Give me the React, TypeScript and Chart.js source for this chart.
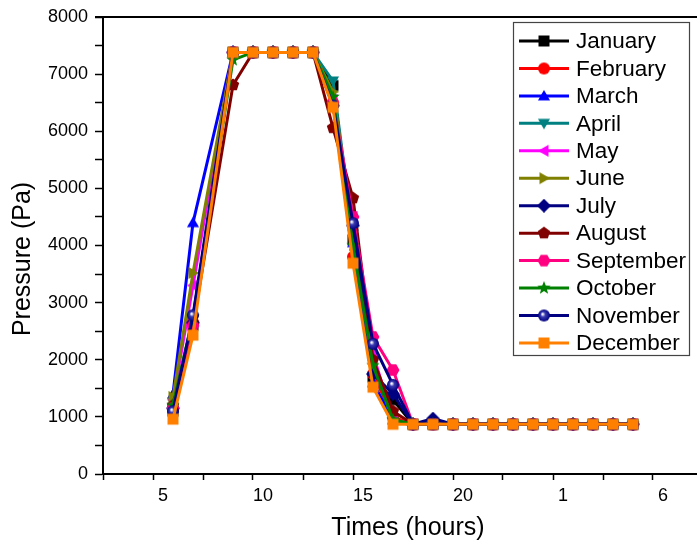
import React, { useEffect, useRef } from "react";
import { Chart, registerables } from "chart.js";

Chart.register(...registerables);

// ---- data ----
const times = [6, 7, 9, 10, 11, 12, 13, 14, 15, 16, 17, 18, 19, 20, 21, 22, 23, 24, 25, 26, 27, 28, 29];
const months = ["January", "February", "March", "April", "May", "June", "July", "August", "September", "October", "November", "December"];

const january = [1100, 2600, 7380, 7380, 7380, 7380, 7380, 6800, 4100, 1700, 1300, 870, 870, 870, 870, 870, 870, 870, 870, 870, 870, 870, 870];
const february = [1150, 2650, 7380, 7380, 7380, 7380, 7380, 6500, 3800, 1750, 1000, 870, 870, 870, 870, 870, 870, 870, 870, 870, 870, 870, 870];
const march = [1400, 4400, 7380, 7380, 7380, 7380, 7380, 6500, 4050, 1600, 950, 870, 870, 870, 870, 870, 870, 870, 870, 870, 870, 870, 870];
const april = [1250, 2700, 7380, 7380, 7380, 7380, 7380, 6880, 4200, 2000, 900, 870, 870, 870, 870, 870, 870, 870, 870, 870, 870, 870, 870];
const may = [1300, 3300, 7380, 7380, 7380, 7380, 7380, 6550, 4500, 2100, 950, 870, 870, 870, 870, 870, 870, 870, 870, 870, 870, 870, 870];
const june = [1350, 3520, 7380, 7380, 7380, 7380, 7380, 6690, 4300, 2000, 950, 870, 870, 870, 870, 870, 870, 870, 870, 870, 870, 870, 870];
const july = [1150, 2650, 7380, 7380, 7380, 7380, 7380, 6450, 4350, 1750, 1400, 870, 970, 870, 870, 870, 870, 870, 870, 870, 870, 870, 870];
const august = [1200, 2600, 6810, 7380, 7380, 7380, 7380, 6060, 4830, 2000, 1100, 870, 870, 870, 870, 870, 870, 870, 870, 870, 870, 870, 870];
const september = [1150, 2600, 7380, 7380, 7380, 7380, 7380, 6500, 4500, 2400, 1820, 870, 870, 870, 870, 870, 870, 870, 870, 870, 870, 870, 870];
const october = [1200, 2750, 7250, 7380, 7380, 7380, 7380, 6600, 4000, 1900, 950, 870, 870, 870, 870, 870, 870, 870, 870, 870, 870, 870, 870];
const november = [1100, 2780, 7380, 7380, 7380, 7380, 7380, 6450, 4390, 2280, 1560, 870, 870, 870, 870, 870, 870, 870, 870, 870, 870, 870, 870];
const december = [960, 2430, 7380, 7380, 7380, 7380, 7380, 6420, 3690, 1520, 870, 870, 870, 870, 870, 870, 870, 870, 870, 870, 870, 870, 870];

const seriesValues = [january, february, march, april, may, june, july, august, september, october, november, december];
const colors = ["#000000", "#FF0000", "#0000FF", "#008080", "#FF00FF", "#808000", "#000080", "#800000", "#FF0080", "#008000", "#000080", "#FF8000"];
const shapes = ["square", "circle", "triUp", "triDown", "triLeft", "triRight", "diamond", "pentagon", "hexagon", "star", "sphere", "square"];

const xTickValues = [5, 10, 15, 20, 25, 30];
const xTickLabels = ["5", "10", "15", "20", "1", "6"];
const yTickValues = [0, 1000, 2000, 3000, 4000, 5000, 6000, 7000, 8000];

const FONT = "'Liberation Sans', Arial, sans-serif";

function polygon(g: CanvasRenderingContext2D, cx: number, cy: number, r: number, n: number, rot: number) {
  for (let i = 0; i < n; i++) {
    const a = rot + (i * 2 * Math.PI) / n;
    const px = cx + r * Math.cos(a);
    const py = cy + r * Math.sin(a);
    if (i === 0) g.moveTo(px, py);
    else g.lineTo(px, py);
  }
  g.closePath();
}

function makeMarker(shape: string, color: string): HTMLCanvasElement {
  const size = 14;
  const c = document.createElement("canvas");
  c.width = size;
  c.height = size;
  const g = c.getContext("2d") as CanvasRenderingContext2D;
  const cx = size / 2, cy = size / 2;
  g.fillStyle = color;
  g.beginPath();
  switch (shape) {
    case "square":
      g.rect(cx - 5.5, cy - 5.5, 11, 11);
      break;
    case "circle":
      g.arc(cx, cy, 6, 0, Math.PI * 2);
      break;
    case "triUp":
      polygon(g, cx, cy + 1, 7, 3, -Math.PI / 2);
      break;
    case "triDown":
      polygon(g, cx, cy - 1, 7, 3, Math.PI / 2);
      break;
    case "triLeft":
      polygon(g, cx + 1, cy, 7, 3, Math.PI);
      break;
    case "triRight":
      polygon(g, cx - 1, cy, 7, 3, 0);
      break;
    case "diamond":
      polygon(g, cx, cy, 7, 4, -Math.PI / 2);
      break;
    case "pentagon":
      polygon(g, cx, cy, 6.5, 5, -Math.PI / 2);
      break;
    case "hexagon":
      polygon(g, cx, cy, 6.5, 6, 0);
      break;
    case "star": {
      for (let i = 0; i < 10; i++) {
        const a = -Math.PI / 2 + (i * Math.PI) / 5;
        const r = i % 2 === 0 ? 7 : 3;
        const px = cx + r * Math.cos(a), py = cy + r * Math.sin(a);
        if (i === 0) g.moveTo(px, py);
        else g.lineTo(px, py);
      }
      g.closePath();
      break;
    }
    case "sphere": {
      const grad = g.createRadialGradient(cx - 1.5, cy - 1.5, 0.5, cx, cy, 6);
      grad.addColorStop(0, "#ffffff");
      grad.addColorStop(0.35, "#3a3ab0");
      grad.addColorStop(1, color);
      g.fillStyle = grad;
      g.arc(cx, cy, 6, 0, Math.PI * 2);
      break;
    }
  }
  g.fill();
  return c;
}

export default function App() {
  const ref = useRef<HTMLCanvasElement | null>(null);

  useEffect(() => {
    if (!ref.current) return;
    const markers = shapes.map((s, i) => makeMarker(s, colors[i]));

    const datasets = months.map((m, i) => ({
      label: m,
      data: times.map((t, j) => ({ x: t, y: seriesValues[i][j] })),
      borderColor: colors[i],
      backgroundColor: colors[i],
      borderWidth: 3,
      pointStyle: markers[i],
      pointRadius: 7,
      tension: 0,
      order: months.length - 1 - i,
    }));

    const framePlugin = {
      id: "frame",
      afterDraw(chart: any) {
        const { ctx, chartArea } = chart;
        ctx.save();
        // top border
        ctx.strokeStyle = "#000";
        ctx.lineWidth = 2;
        ctx.beginPath();
        ctx.moveTo(chartArea.left - 8, chartArea.top);
        ctx.lineTo(chartArea.right, chartArea.top);
        ctx.stroke();

        // axis titles
        ctx.fillStyle = "#000";
        ctx.font = `25px ${FONT}`;
        ctx.textAlign = "center";
        ctx.textBaseline = "middle";
        ctx.fillText("Times (hours)", 408, 528);
        ctx.save();
        ctx.translate(23, 259);
        ctx.rotate(-Math.PI / 2);
        ctx.fillText("Pressure (Pa)", 0, 0);
        ctx.restore();

        // legend
        const x0 = 513, y0 = 22, x1 = 690, y1 = 356;
        ctx.fillStyle = "#fff";
        ctx.fillRect(x0, y0, x1 - x0, y1 - y0);
        ctx.strokeStyle = "#444";
        ctx.lineWidth = 1.2;
        ctx.strokeRect(x0 + 0.5, y0 + 0.5, x1 - x0 - 1, y1 - y0 - 1);
        ctx.font = `22.5px ${FONT}`;
        ctx.textAlign = "left";
        ctx.textBaseline = "middle";
        months.forEach((m, i) => {
          const y = 41 + i * 27.45;
          ctx.strokeStyle = colors[i];
          ctx.lineWidth = 3;
          ctx.beginPath();
          ctx.moveTo(519, y);
          ctx.lineTo(569, y);
          ctx.stroke();
          const mk = markers[i];
          ctx.drawImage(mk, 544 - mk.width / 2, y - mk.height / 2);
          ctx.fillStyle = "#000";
          ctx.fillText(m, 576, y + 1);
        });
        ctx.restore();
      },
    };

    const chart = new Chart(ref.current, {
      type: "line",
      data: { datasets: datasets as any },
      options: {
        responsive: false,
        animation: false,
        events: [],
        layout: { autoPadding: false, padding: { top: 17, left: 0, right: 0, bottom: 0 } },
        plugins: { legend: { display: false }, tooltip: { enabled: false }, title: { display: false } },
        scales: {
          x: {
            type: "linear",
            min: 2.5,
            max: 32.2,
            afterFit(scale: any) {
              scale.height = 67;
              scale.paddingLeft = 0;
              scale.paddingRight = 0;
            },
            afterBuildTicks(scale: any) {
              const t = [];
              for (let v = 2.5; v <= 30; v += 2.5) t.push({ value: v });
              scale.ticks = t;
            },
            grid: { drawOnChartArea: false, drawTicks: true, tickLength: 6, tickColor: "#000", tickWidth: 1.5 },
            border: { display: true, color: "#000", width: 2 },
            ticks: {
              color: "#000",
              font: { family: FONT, size: 18 },
              padding: 5,
              labelOffset: 10,
              maxRotation: 0,
              autoSkip: false,
              callback(v: any) {
                const k = xTickValues.indexOf(Number(v));
                return k >= 0 ? xTickLabels[k] : "";
              },
            },
          },
          y: {
            type: "linear",
            min: 0,
            max: 8000,
            afterFit(scale: any) {
              scale.width = 103;
              scale.paddingTop = 0;
              scale.paddingBottom = 0;
            },
            afterBuildTicks(scale: any) {
              const t = [];
              for (let v = 0; v <= 8000; v += 500) t.push({ value: v });
              scale.ticks = t;
            },
            grid: { drawOnChartArea: false, drawTicks: true, tickLength: 8, tickColor: "#000", tickWidth: 1.5 },
            border: { display: true, color: "#000", width: 2 },
            ticks: {
              color: "#000",
              font: { family: FONT, size: 18 },
              padding: 7,
              autoSkip: false,
              callback(v: any) {
                return yTickValues.indexOf(Number(v)) >= 0 ? String(v) : "";
              },
            },
          },
        },
      },
      plugins: [framePlugin],
    });
    return () => chart.destroy();
  }, []);

  return (
    <div style={{ position: "fixed", left: 0, top: 0, width: 697, height: 541, background: "#fff" }}>
      <canvas ref={ref} width={697} height={541} style={{ width: 697, height: 541, display: "block" }} />
    </div>
  );
}
